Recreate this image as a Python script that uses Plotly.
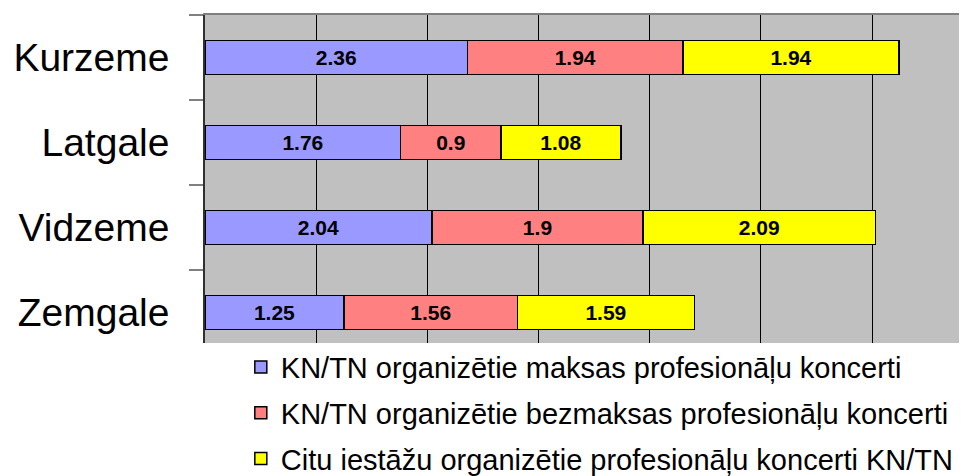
import plotly.graph_objects as go

regions = ["Kurzeme", "Latgale", "Vidzeme", "Zemgale"]
series_names = [
    "KN/TN organizētie maksas profesionāļu koncerti",
    "KN/TN organizētie bezmaksas profesionāļu koncerti",
    "Citu iestāžu organizētie profesionāļu koncerti KN/TN",
]
paid = [2.36, 1.76, 2.04, 1.25]
free = [1.94, 0.9, 1.9, 1.56]
other = [1.94, 1.08, 2.09, 1.59]
colors = ["#9999FF", "#FF8080", "#FFFF00"]

FONT = "Liberation Sans, Arial, sans-serif"

fig = go.Figure()
for i, (name, vals) in enumerate(zip(series_names, [paid, free, other])):
    fig.add_trace(go.Bar(
        y=regions, x=vals, orientation="h", name=name,
        legendgroup=f"g{i}",
        marker=dict(color=colors[i], line=dict(color="#000000", width=1.5)),
        width=0.4,
        text=[str(v) for v in vals], textposition="inside",
        insidetextanchor="middle", constraintext="none", textangle=0,
        textfont=dict(family=FONT, size=21, color="#000000", weight="bold"),
    ))

# page has an 8px body margin, so the figure is sized to fit the window
fig.update_layout(
    width=959, height=468,
    margin=dict(l=197, r=0, t=7, b=133, autoexpand=False),
    barmode="stack",
    paper_bgcolor="white",
    plot_bgcolor="#C0C0C0",
    font=dict(family=FONT, color="#000000"),
    legend=dict(
        x=0.047, y=0.004, xanchor="left", yanchor="top",
        font=dict(size=29, family=FONT, color="#000000"),
        bgcolor="rgba(255,255,255,0)",
        traceorder="grouped", tracegroupgap=5,
    ),
    xaxis=dict(
        range=[0, 6.853], showticklabels=False, ticks="",
        showgrid=True, gridcolor="#000000", gridwidth=1,
        dtick=1, zeroline=False, showline=True, linecolor="#808080",
        linewidth=2, mirror=False, side="top", automargin=False,
    ),
    yaxis=dict(
        categoryorder="array", categoryarray=regions,
        range=[3.359, -0.5],
        showgrid=False, zeroline=False,
        showline=True, linecolor="#303030", linewidth=1.5,
        ticks="outside", ticklen=14, tickcolor="#808080", tickwidth=1.5,
        tickson="boundaries",
        ticklabelstandoff=26, automargin=False,
        tickfont=dict(size=39, family=FONT, color="#000000"),
    ),
)

fig.write_html("out.html")
